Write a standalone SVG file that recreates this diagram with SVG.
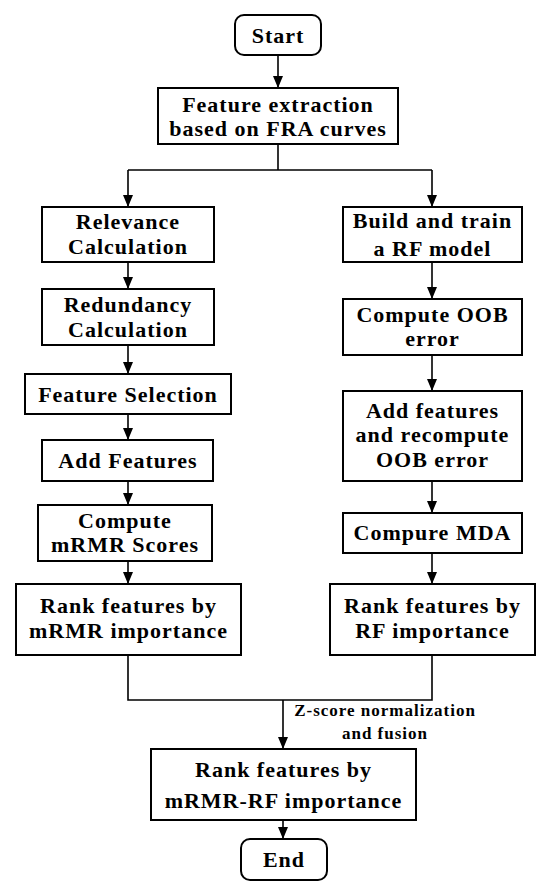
<svg xmlns="http://www.w3.org/2000/svg" width="550" height="896" viewBox="0 0 550 896">
<style>
.box{fill:#fff;stroke:#000;stroke-width:2}
.t{font-family:"Liberation Serif","Times New Roman",serif;font-weight:bold;font-size:22px;letter-spacing:1px;text-anchor:middle;fill:#000}
.lbl{font-family:"Liberation Serif","Times New Roman",serif;font-weight:bold;font-size:17px;letter-spacing:1px;text-anchor:middle;fill:#000}
.c{fill:none;stroke:#000;stroke-width:1.6}
</style>
<defs>
<marker id="ah" markerUnits="userSpaceOnUse" markerWidth="12" markerHeight="12" viewBox="0 0 12 12" refX="12" refY="6" orient="auto">
<path d="M0,1 L12,6 L0,11 Z" fill="#000"/>
</marker>
</defs>
<rect width="550" height="896" fill="#fff"/>
<g id="connectors">
<line class="c" x1="278" y1="55" x2="278" y2="88" marker-end="url(#ah)"/>
<polyline class="c" points="278,144 278,170"/>
<polyline class="c" points="128,170 432,170"/>
<line class="c" x1="128" y1="170" x2="128" y2="207" marker-end="url(#ah)"/>
<line class="c" x1="432" y1="170" x2="432" y2="207" marker-end="url(#ah)"/>
<line class="c" x1="128" y1="262" x2="128" y2="289" marker-end="url(#ah)"/>
<line class="c" x1="128" y1="345" x2="128" y2="374" marker-end="url(#ah)"/>
<line class="c" x1="128" y1="414" x2="128" y2="440" marker-end="url(#ah)"/>
<line class="c" x1="128" y1="481" x2="128" y2="505" marker-end="url(#ah)"/>
<line class="c" x1="128" y1="561" x2="128" y2="584" marker-end="url(#ah)"/>
<line class="c" x1="432" y1="262" x2="432" y2="299" marker-end="url(#ah)"/>
<line class="c" x1="432" y1="355" x2="432" y2="391" marker-end="url(#ah)"/>
<line class="c" x1="432" y1="481" x2="432" y2="513" marker-end="url(#ah)"/>
<line class="c" x1="432" y1="553" x2="432" y2="584" marker-end="url(#ah)"/>
<polyline class="c" points="128,655 128,700 432,700 432,655"/>
<line class="c" x1="283" y1="700" x2="283" y2="749" marker-end="url(#ah)"/>
<line class="c" x1="283" y1="820" x2="283" y2="839" marker-end="url(#ah)"/>
<text class="lbl" x="385" y="716">Z-score normalization</text>
<text class="lbl" x="385" y="739">and fusion</text>
</g>
<g id="start">
<rect class="box" x="235" y="15" width="86" height="40" rx="9"/>
<text class="t" x="278" y="43">Start</text>
</g>
<g id="extract">
<rect class="box" x="158" y="88" width="240" height="56"/>
<text class="t" x="278" y="112">Feature extraction</text>
<text class="t" x="278" y="136">based on FRA curves</text>
</g>
<g id="relevance">
<rect class="box" x="42" y="207" width="172" height="55"/>
<text class="t" x="128" y="229">Relevance</text>
<text class="t" x="128" y="254">Calculation</text>
</g>
<g id="redundancy">
<rect class="box" x="42" y="289" width="172" height="56"/>
<text class="t" x="128" y="312">Redundancy</text>
<text class="t" x="128" y="337">Calculation</text>
</g>
<g id="selection">
<rect class="box" x="25" y="374" width="206" height="40"/>
<text class="t" x="128" y="402">Feature Selection</text>
</g>
<g id="addfeat">
<rect class="box" x="42" y="440" width="171" height="41"/>
<text class="t" x="128" y="468">Add Features</text>
</g>
<g id="mrmrscore">
<rect class="box" x="38" y="505" width="174" height="56"/>
<text class="t" x="125" y="528">Compute</text>
<text class="t" x="125" y="552">mRMR Scores</text>
</g>
<g id="rankmrmr">
<rect class="box" x="16" y="584" width="225" height="71"/>
<text class="t" x="128.5" y="613">Rank features by</text>
<text class="t" x="128.5" y="638">mRMR importance</text>
</g>
<g id="buildrf">
<rect class="box" x="343" y="207" width="179" height="55"/>
<text class="t" x="432.5" y="228">Build and train</text>
<text class="t" x="432.5" y="256">a RF model</text>
</g>
<g id="oob">
<rect class="box" x="343" y="299" width="179" height="56"/>
<text class="t" x="432.5" y="322">Compute OOB</text>
<text class="t" x="432.5" y="346">error</text>
</g>
<g id="recompute">
<rect class="box" x="343" y="391" width="179" height="90"/>
<text class="t" x="432.5" y="418">Add features</text>
<text class="t" x="432.5" y="442">and recompute</text>
<text class="t" x="432.5" y="467">OOB error</text>
</g>
<g id="mda">
<rect class="box" x="343" y="513" width="179" height="40"/>
<text class="t" x="432.5" y="540">Compure MDA</text>
</g>
<g id="rankrf">
<rect class="box" x="330" y="584" width="205" height="71"/>
<text class="t" x="432.5" y="613">Rank features by</text>
<text class="t" x="432.5" y="638">RF importance</text>
</g>
<g id="rankfused">
<rect class="box" x="151" y="749" width="265" height="71"/>
<text class="t" x="283.5" y="777">Rank features by</text>
<text class="t" x="283.5" y="808">mRMR-RF importance</text>
</g>
<g id="end">
<rect class="box" x="241" y="839" width="86" height="41" rx="9"/>
<text class="t" x="284" y="867">End</text>
</g>
</svg>
